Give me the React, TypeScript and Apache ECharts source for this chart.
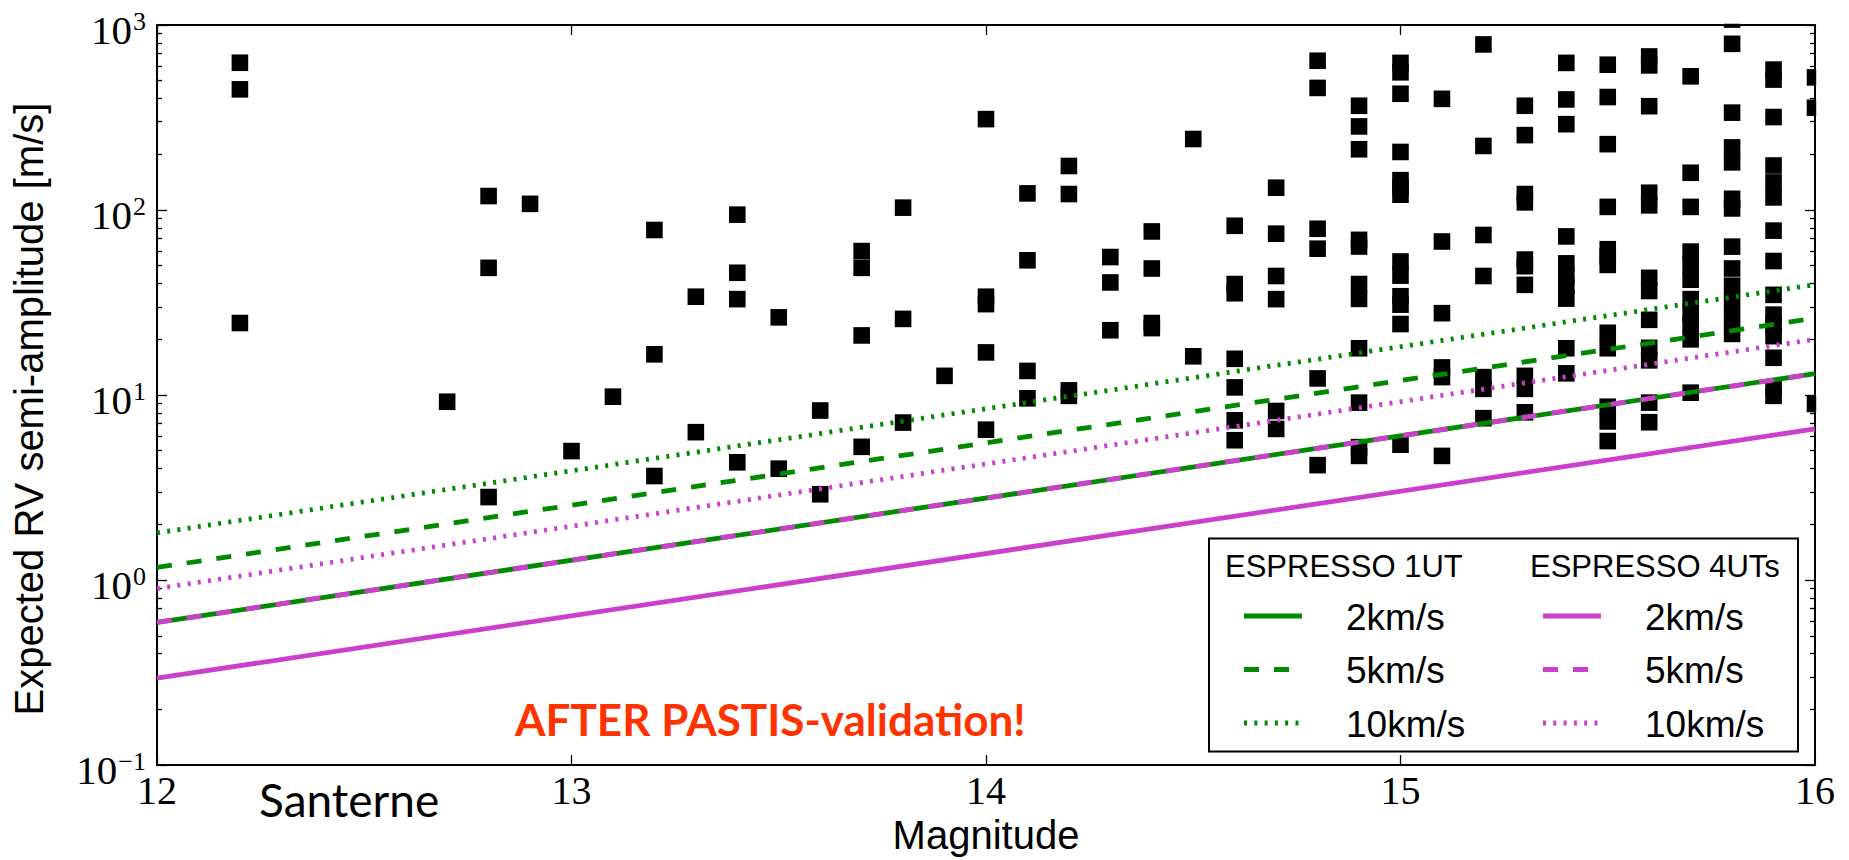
import React, { useEffect, useRef } from "react";
import * as echarts from "echarts";

// ---------- data ----------
const X_MIN = 12;
const X_MAX = 16;
const Y_MIN = 0.1;
const Y_MAX = 1000;
const MINOR_TICKS = [
  0.2, 0.3, 0.4, 0.5, 0.6, 0.7, 0.8, 0.9,
  2, 3, 4, 5, 6, 7, 8, 9,
  20, 30, 40, 50, 60, 70, 80, 90,
  200, 300, 400, 500, 600, 700, 800, 900,
];

const COLUMN_MAGNITUDES = [
  12.2, 12.7, 12.8, 12.9, 13.0, 13.1, 13.2, 13.3, 13.4, 13.5, 13.6, 13.7, 13.8, 13.9,
  14.0, 14.1, 14.2, 14.3, 14.4, 14.5, 14.6, 14.7, 14.8, 14.9, 15.0, 15.1, 15.2, 15.3,
  15.4, 15.5, 15.6, 15.7, 15.8, 15.9, 16.0,
];
const COLUMN_AMPLITUDES: number[][] = [
  [625, 449, 24.5],
  [9.2],
  [119, 48.7, 2.81],
  [108],
  [4.98],
  [9.8],
  [78, 16.6, 3.65],
  [34, 6.3],
  [94.4, 45.8, 33, 4.33],
  [26.3, 4.0],
  [8.25, 2.91],
  [60, 48.7, 21, 5.25],
  [103, 25.8, 7.1],
  [12.7],
  [310, 34, 31, 17, 6.5],
  [123, 53.5, 13.5, 9.6],
  [173, 122, 10.6, 9.9],
  [55.7, 40.6, 22.4],
  [76.6, 48.3, 24.5, 23],
  [242, 16.2],
  [82.2, 39.8, 35.5, 15.7, 11, 7.3, 5.7],
  [132, 74.5, 44, 33, 8.2, 6.56],
  [641, 457, 79.2, 61.8, 12.3, 4.18],
  [366, 283, 213, 69, 63.5, 39.8, 33.1, 17.9, 9.1, 5.23, 4.69],
  [624, 555, 425, 206, 145, 133, 121, 52.7, 44.2, 34.2, 30.8, 24.2, 5.39],
  [399, 67.6, 27.7, 14.1, 12.5, 4.69],
  [785, 222, 73.3, 44, 12.5, 10.8, 7.5],
  [366, 254, 122, 110, 54, 49.7, 39.4, 12.7, 10.8, 8.07],
  [624, 396, 291, 72, 51.5, 44.5, 38.7, 33.2, 17.9, 13.1],
  [610, 408, 227, 104, 61.4, 56, 50.5, 21.7, 17.9, 8.65, 7.2, 5.64],
  [676, 605, 364, 124, 106, 43, 36.5, 25.5, 18, 15.4, 9.1, 7.13],
  [528, 159, 104, 59.6, 50.5, 42, 33, 27.5, 24, 20, 10.3],
  [1070, 791, 336, 218, 181, 115, 102, 63.4, 48.3, 39, 31.8, 26, 21.4],
  [574, 507, 318, 174, 141, 117, 77.4, 53, 34.8, 27.2, 23.9, 20.8, 15.9, 11, 9.9],
  [521, 357, 8.95],
];

const LINE_MAGS = [12, 16];
const UT1_2KMS = [0.59, 13.05];
const UT1_5KMS = [1.17, 26];
const UT1_10KMS = [1.8, 39.5];
const UT4_2KMS = [0.295, 6.56];
const UT4_5KMS = [0.59, 13.05];
const UT4_10KMS = [0.9, 20];

const LEGEND_HEADERS = ["ESPRESSO 1UT", "ESPRESSO 4UTs"];
const LEGEND_SPEEDS = ["2km/s", "5km/s", "10km/s"];

// ---------- styles ----------
const GREEN = "#008a00";
const MAGENTA = "#cc3fcc";
const RED = "#ff3300";
const SERIF = "'Liberation Serif', 'DejaVu Serif', serif";
const SANS = "'Liberation Sans', Arial, sans-serif";
const DASH = [15, 15];
const DOT = [3, 7.3];
const LINE_W = 4.8;

function lineData(vals: number[]) {
  return LINE_MAGS.map((m, i) => [m, vals[i]]);
}

export default function App() {
  const ref = useRef<HTMLDivElement>(null);

  useEffect(() => {
    if (!ref.current) return;
    const chart = echarts.init(ref.current, undefined, { renderer: "svg" });

    const scatterData: number[][] = [];
    COLUMN_MAGNITUDES.forEach((m, i) => {
      COLUMN_AMPLITUDES[i].forEach((k) => scatterData.push([m, k]));
    });

    const lineSeries = (
      name: string,
      vals: number[],
      color: string,
      type: any
    ) => ({
      name,
      type: "line",
      data: lineData(vals),
      symbol: "none",
      showSymbol: false,
      silent: true,
      z: 3,
      lineStyle: { color, width: LINE_W, type, cap: "butt", opacity: 1 },
    });

    const tickStyle = { color: "#000", width: 1.3 };
    const axisLine = { show: true, lineStyle: { color: "#000", width: 2 } };

    const gridLeft = 157;
    const gridRight = 1815;
    const gridTop = 25;
    const gridBottom = 770;

    const legendX = 1209;
    const legendY = 538.5;
    const legendW = 589;
    const legendH = 213;
    const rowY = [616, 669.5, 723];
    const colLineX = [1244, 1543];
    const colTextX = [1346, 1645];
    const colHeaderX = [1225, 1530];
    const legendStyles = [
      [
        { color: GREEN, dash: null },
        { color: GREEN, dash: DASH },
        { color: GREEN, dash: DOT },
      ],
      [
        { color: MAGENTA, dash: null },
        { color: MAGENTA, dash: DASH },
        { color: MAGENTA, dash: DOT },
      ],
    ];

    const legendElements: any[] = [
      {
        type: "rect",
        z: 60,
        shape: { x: legendX, y: legendY, width: legendW, height: legendH },
        style: { fill: "#fff", stroke: "#000", lineWidth: 2 },
      },
    ];
    LEGEND_HEADERS.forEach((h, c) => {
      legendElements.push({
        type: "text",
        z: 61,
        x: colHeaderX[c],
        y: 566,
        style: {
          text: h,
          fill: "#000",
          fontFamily: SANS,
          fontSize: 31,
          textAlign: "left",
          align: "left",
          textVerticalAlign: "middle",
          verticalAlign: "middle",
        },
      });
      LEGEND_SPEEDS.forEach((s, r) => {
        const st = legendStyles[c][r];
        legendElements.push({
          type: "line",
          z: 61,
          shape: { x1: colLineX[c], y1: rowY[r], x2: colLineX[c] + 58, y2: rowY[r] },
          style: {
            stroke: st.color,
            lineWidth: LINE_W,
            lineDash: st.dash || undefined,
            lineCap: "butt",
          },
        });
        legendElements.push({
          type: "text",
          z: 61,
          x: colTextX[c],
          y: rowY[r] + 1,
          style: {
            text: s,
            fill: "#000",
            fontFamily: SANS,
            fontSize: 37,
            textAlign: "left",
            align: "left",
            textVerticalAlign: "middle",
            verticalAlign: "middle",
          },
        });
      });
    });

    const option: any = {
      animation: false,
      backgroundColor: "#fff",
      grid: {
        left: gridLeft,
        right: 1849 - gridRight,
        top: gridTop,
        bottom: 860 - gridBottom,
        containLabel: false,
      },
      xAxis: [
        {
          type: "value",
          min: X_MIN,
          max: X_MAX,
          interval: 1,
          position: "bottom",
          axisLine,
          axisTick: { show: true, inside: true, length: 10, lineStyle: tickStyle },
          axisLabel: {
            show: true,
            fontFamily: SERIF,
            fontSize: 40,
            color: "#000",
            margin: 5,
          },
          splitLine: { show: false },
          name: "Magnitude",
          nameLocation: "middle",
          nameGap: 48,
          nameTextStyle: { fontFamily: SANS, fontSize: 40, color: "#000" },
        },
        {
          type: "value",
          min: X_MIN,
          max: X_MAX,
          interval: 1,
          position: "top",
          axisLine,
          axisTick: { show: true, inside: true, length: 10, lineStyle: tickStyle },
          axisLabel: { show: false },
          splitLine: { show: false },
        },
      ],
      yAxis: [
        {
          type: "log",
          logBase: 10,
          min: Y_MIN,
          max: Y_MAX,
          position: "left",
          axisLine,
          axisTick: { show: true, inside: true, length: 10, lineStyle: tickStyle },
          axisLabel: {
            show: true,
            margin: 11,
            padding: [8, 0, 0, 0],
            formatter: (v: number) => {
              const e = Math.round(Math.log10(v));
              const es = e < 0 ? "\u2212" + -e : String(e);
              return `{b|10}{s|${es}}`;
            },
            rich: {
              b: {
                fontFamily: SERIF,
                fontSize: 41,
                color: "#000",
                lineHeight: 42,
                verticalAlign: "bottom",
              },
              s: {
                fontFamily: SERIF,
                fontSize: 26,
                color: "#000",
                lineHeight: 25,
                verticalAlign: "top",
                padding: [0, 0, 0, 1],
              },
            },
          },
          splitLine: { show: false },
          name: "Expected RV semi-amplitude [m/s]",
          nameLocation: "middle",
          nameGap: 108,
          nameRotate: 90,
          nameTextStyle: {
            fontFamily: SANS,
            fontSize: 40,
            color: "#000",
            padding: [0, 28, 0, 0],
          },
        },
        {
          type: "log",
          logBase: 10,
          min: Y_MIN,
          max: Y_MAX,
          position: "right",
          axisLine,
          axisTick: { show: true, inside: true, length: 10, lineStyle: tickStyle },
          axisLabel: { show: false },
          splitLine: { show: false },
        },
        {
          type: "log",
          logBase: 10,
          min: Y_MIN,
          max: Y_MAX,
          position: "left",
          axisLine: { show: false },
          axisTick: {
            show: true,
            inside: true,
            length: 5,
            lineStyle: tickStyle,
            customValues: MINOR_TICKS,
          },
          axisLabel: { show: false },
          splitLine: { show: false },
        },
        {
          type: "log",
          logBase: 10,
          min: Y_MIN,
          max: Y_MAX,
          position: "right",
          axisLine: { show: false },
          axisTick: {
            show: true,
            inside: true,
            length: 5,
            lineStyle: tickStyle,
            customValues: MINOR_TICKS,
          },
          axisLabel: { show: false },
          splitLine: { show: false },
        },
      ],
      series: [
        {
          name: "Candidates",
          type: "scatter",
          data: scatterData,
          symbol: "rect",
          symbolSize: 16.6,
          clip: false,
          silent: true,
          z: 2,
          itemStyle: { color: "#000", opacity: 1 },
        },
        lineSeries("ESPRESSO 1UT 2km/s", UT1_2KMS, GREEN, "solid"),
        lineSeries("ESPRESSO 1UT 5km/s", UT1_5KMS, GREEN, DASH),
        lineSeries("ESPRESSO 1UT 10km/s", UT1_10KMS, GREEN, DOT),
        lineSeries("ESPRESSO 4UTs 2km/s", UT4_2KMS, MAGENTA, "solid"),
        lineSeries("ESPRESSO 4UTs 5km/s", UT4_5KMS, MAGENTA, DASH),
        lineSeries("ESPRESSO 4UTs 10km/s", UT4_10KMS, MAGENTA, DOT),
      ],
      graphic: [
        // masks that clip markers falling outside the axes box
        {
          type: "rect",
          z: 50,
          silent: true,
          shape: { x: gridLeft, y: 0, width: 1849 - gridLeft, height: gridTop - 1.2 },
          style: { fill: "#fff" },
        },
        {
          type: "rect",
          z: 50,
          silent: true,
          shape: { x: gridRight + 1.2, y: 0, width: 40, height: gridBottom - 2 },
          style: { fill: "#fff" },
        },
        ...legendElements,
        {
          type: "text",
          z: 61,
          x: 515,
          y: 719,
          style: {
            text: "AFTER PASTIS-validation!",
            fill: RED,
            fontFamily: "Lato, 'Open Sans', sans-serif",
            fontWeight: "bold",
            fontSize: 44,
            textAlign: "left",
            align: "left",
            textVerticalAlign: "middle",
            verticalAlign: "middle",
          },
        },
        {
          type: "text",
          z: 61,
          x: 259,
          y: 799,
          style: {
            text: "Santerne",
            fill: "#000",
            fontFamily: "Lato, 'Open Sans', sans-serif",
            fontSize: 46,
            textAlign: "left",
            align: "left",
            textVerticalAlign: "middle",
            verticalAlign: "middle",
          },
        },
      ],
    };

    chart.setOption(option);
    return () => chart.dispose();
  }, []);

  return (
    <div
      ref={ref}
      style={{ position: "fixed", left: 0, top: 0, width: 1849, height: 860, background: "#fff" }}
    />
  );
}
